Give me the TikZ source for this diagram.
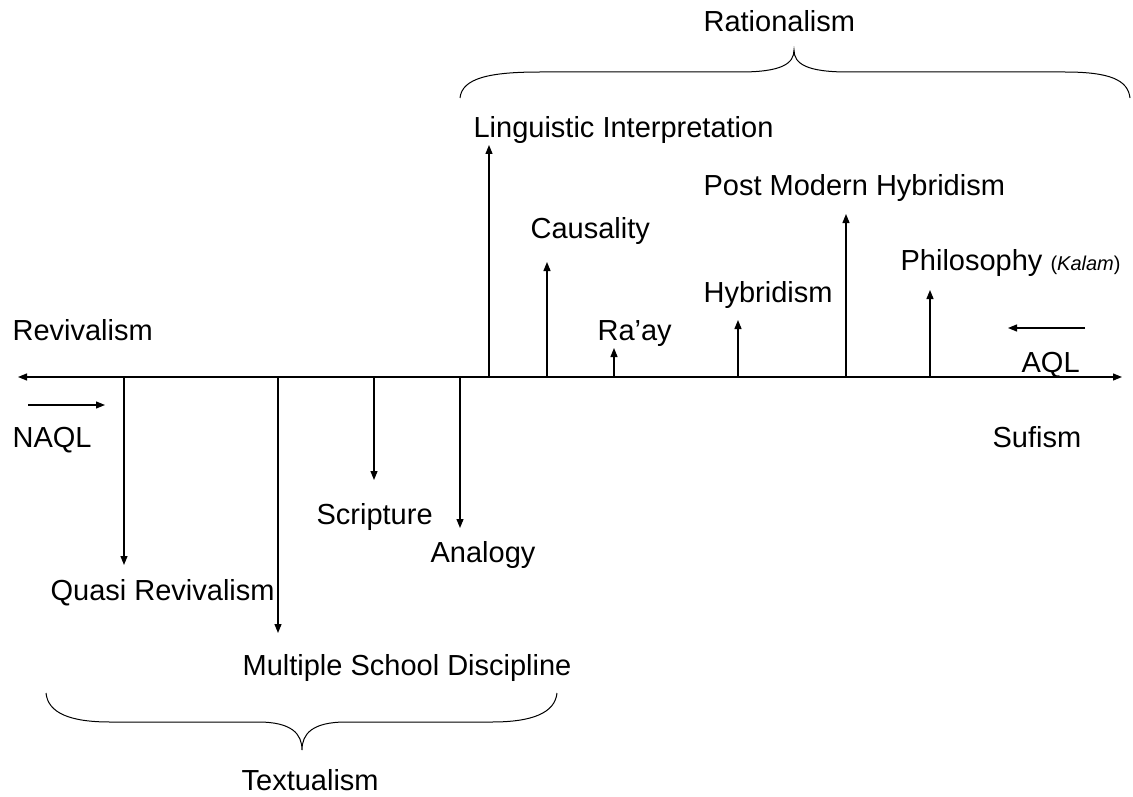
\documentclass[tikz,border=0pt]{standalone}
\usepackage{fontspec}
\setmainfont{Liberation Sans}
\usetikzlibrary{arrows.meta,positioning}

\begin{document}
\begin{tikzpicture}[
  x=1pt,y=-1pt,
  line width=1.2pt,
  >={Triangle[length=9pt,width=7pt]},
  mylabel/.style={
    anchor=base west,
    inner sep=0pt,
    font=\fontsize{29}{33}\selectfont
    },
  mybrace/.style={
    line width=1pt
  }
]
\useasboundingbox (0,0) rectangle (1133,797);

% the axis
\coordinate (axisL) at (18,377);
\coordinate (axisR) at (1122,377);
\draw[<->] (axisL) -- (axisR);

% stems above and below the axis
\foreach \Stem/\Xpos/\Ytip in {quasi/124/565, multi/278/633, scrip/374/480, analog/460/528,
  ling/489/145, caus/547/262, raay/614/348, hybr/738/320, postm/846/214, phil/930/290}
  {
  \coordinate (\Stem-foot) at (\Xpos,377);
  \coordinate (\Stem-tip) at (\Xpos,\Ytip);
  \draw[->] (\Stem-foot) -- (\Stem-tip);
  }

% direction arrows
\coordinate (naqlA) at (28,405);
\coordinate (naqlB) at (105,405);
\draw[->] (naqlA) -- (naqlB);
\coordinate (aqlA) at (1085,328);
\coordinate (aqlB) at (1008,328);
\draw[->] (aqlA) -- (aqlB);

% labels
\node[mylabel] (revival) at (12,340) {Revivalism};
\node[mylabel] (naql) at (12,447) {NAQL};
\node[mylabel] (quasi) at (50,600) {Quasi Revivalism};
\node[mylabel] (multi) at (242,675) {Multiple School Discipline};
\node[mylabel] (scrip) at (316,524) {Scripture};
\node[mylabel] (analog) at (430,562) {Analogy};
\node[mylabel] (ling) at (473,138) {Linguistic Interpretation};
\node[mylabel] (caus) at (530,238) {Causality};
\node[mylabel] (raay) at (597,340) {Ra’ay};
\node[mylabel] (hybr) at (703,302) {Hybridism};
\node[mylabel] (postm) at (703,195) {Post Modern Hybridism};
\node[mylabel] (phil) at (900,270) {Philosophy {\fontsize{20}{24}\selectfont(\textit{Kalam})}};
\node[mylabel] (aql) at (1021,372) {AQL};
\node[mylabel] (sufi) at (992,447) {Sufism};
\node[mylabel] (ratio) at (703,32) {Rationalism};
\node[mylabel] (textu) at (241,790) {Textualism};

% braces
\draw[mybrace] (460,98) .. controls (462,78) and (490,72) .. (540,72) -- (740,72)
  .. controls (781,72) and (794,64) .. (794,50)
  .. controls (794,64) and (807,72) .. (848,72) -- (1065,72)
  .. controls (1110,72) and (1128,80) .. (1130,98);
\draw[mybrace] (46,693) .. controls (48,713) and (70,722) .. (110,722) -- (258,722)
  .. controls (292,722) and (302,734) .. (302,750)
  .. controls (302,734) and (312,722) .. (346,722) -- (492,722)
  .. controls (532,722) and (555,713) .. (557,693);

\end{tikzpicture}
\end{document}
